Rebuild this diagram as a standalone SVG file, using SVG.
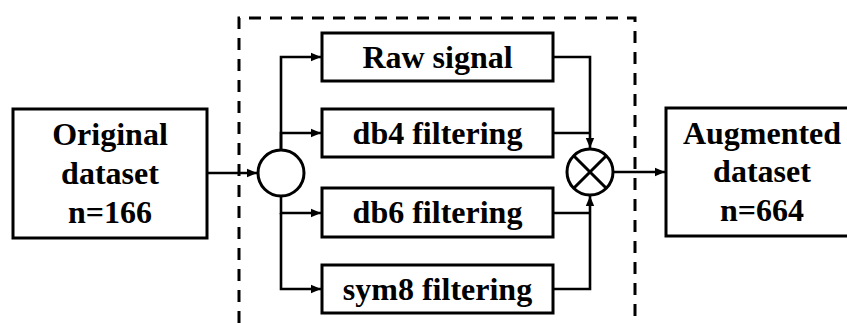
<svg xmlns="http://www.w3.org/2000/svg" width="847" height="323" viewBox="0 0 847 323">
  <style>
    .box { fill: #fff; stroke: #000; stroke-width: 3; }
    .lbl { font-family: 'Liberation Serif', 'DejaVu Serif', serif; font-weight: 700; font-size: 32px; text-anchor: middle; fill: #000; }
    .wire { fill: none; stroke: #000; stroke-width: 2.6; }
    .arr { marker-end: url(#head); }
    .frame { fill: none; stroke: #000; stroke-width: 3; stroke-dasharray: 12 9; }
  </style>
  <defs>
    <marker id="head" markerUnits="userSpaceOnUse" markerWidth="12" markerHeight="10" refX="10" refY="5" orient="auto">
      <path d="M0,0.8 L10,5 L0,9.2 Z" fill="#000"/>
    </marker>
  </defs>

  <rect width="847" height="323" fill="#fff"/>

  <!-- dashed processing frame -->
  <path class="frame" d="M239,323 V18 H635 V323"/>

  <g id="connectors">
    <path class="wire arr" d="M207,173 H257"/>
    <path class="wire arr" d="M281,150 V57 H321"/>
    <path class="wire arr" d="M281,150 V133 H321"/>
    <path class="wire arr" d="M281,196 V213 H321"/>
    <path class="wire arr" d="M281,213 V289 H321"/>
    <path class="wire arr" d="M553,57 H590 V148"/>
    <path class="wire" d="M553,133 H590"/>
    <path class="wire arr" d="M553,289 H590 V196"/>
    <path class="wire" d="M553,213 H590"/>
    <path class="wire arr" d="M613,172 H665"/>
  </g>

  <g id="original">
    <rect class="box" x="13" y="109" width="194" height="129"/>
    <text class="lbl" x="110" y="145">Original</text>
    <text class="lbl" x="110" y="184">dataset</text>
    <text class="lbl" x="110" y="223">n=166</text>
  </g>

  <g id="split">
    <circle cx="281" cy="173" r="23" fill="#fff" stroke="#000" stroke-width="3"/>
  </g>

  <g id="raw">
    <rect class="box" x="322" y="33" width="231" height="48"/>
    <text class="lbl" x="437.5" y="68">Raw signal</text>
  </g>
  <g id="db4">
    <rect class="box" x="322" y="109" width="231" height="48"/>
    <text class="lbl" x="437.5" y="144">db4 filtering</text>
  </g>
  <g id="db6">
    <rect class="box" x="322" y="188" width="231" height="49"/>
    <text class="lbl" x="437.5" y="223">db6 filtering</text>
  </g>
  <g id="sym8">
    <rect class="box" x="322" y="265" width="231" height="48"/>
    <text class="lbl" x="437.5" y="300">sym8 filtering</text>
  </g>

  <g id="merge">
    <circle cx="590" cy="172" r="23" fill="#fff" stroke="#000" stroke-width="3"/>
    <path d="M573.7,155.7 L606.3,188.3 M606.3,155.7 L573.7,188.3" stroke="#000" stroke-width="3"/>
  </g>

  <g id="augmented">
    <rect class="box" x="666" y="108" width="200" height="128"/>
    <text class="lbl" x="762" y="144">Augmented</text>
    <text class="lbl" x="762" y="182">dataset</text>
    <text class="lbl" x="762" y="221">n=664</text>
  </g>
</svg>
